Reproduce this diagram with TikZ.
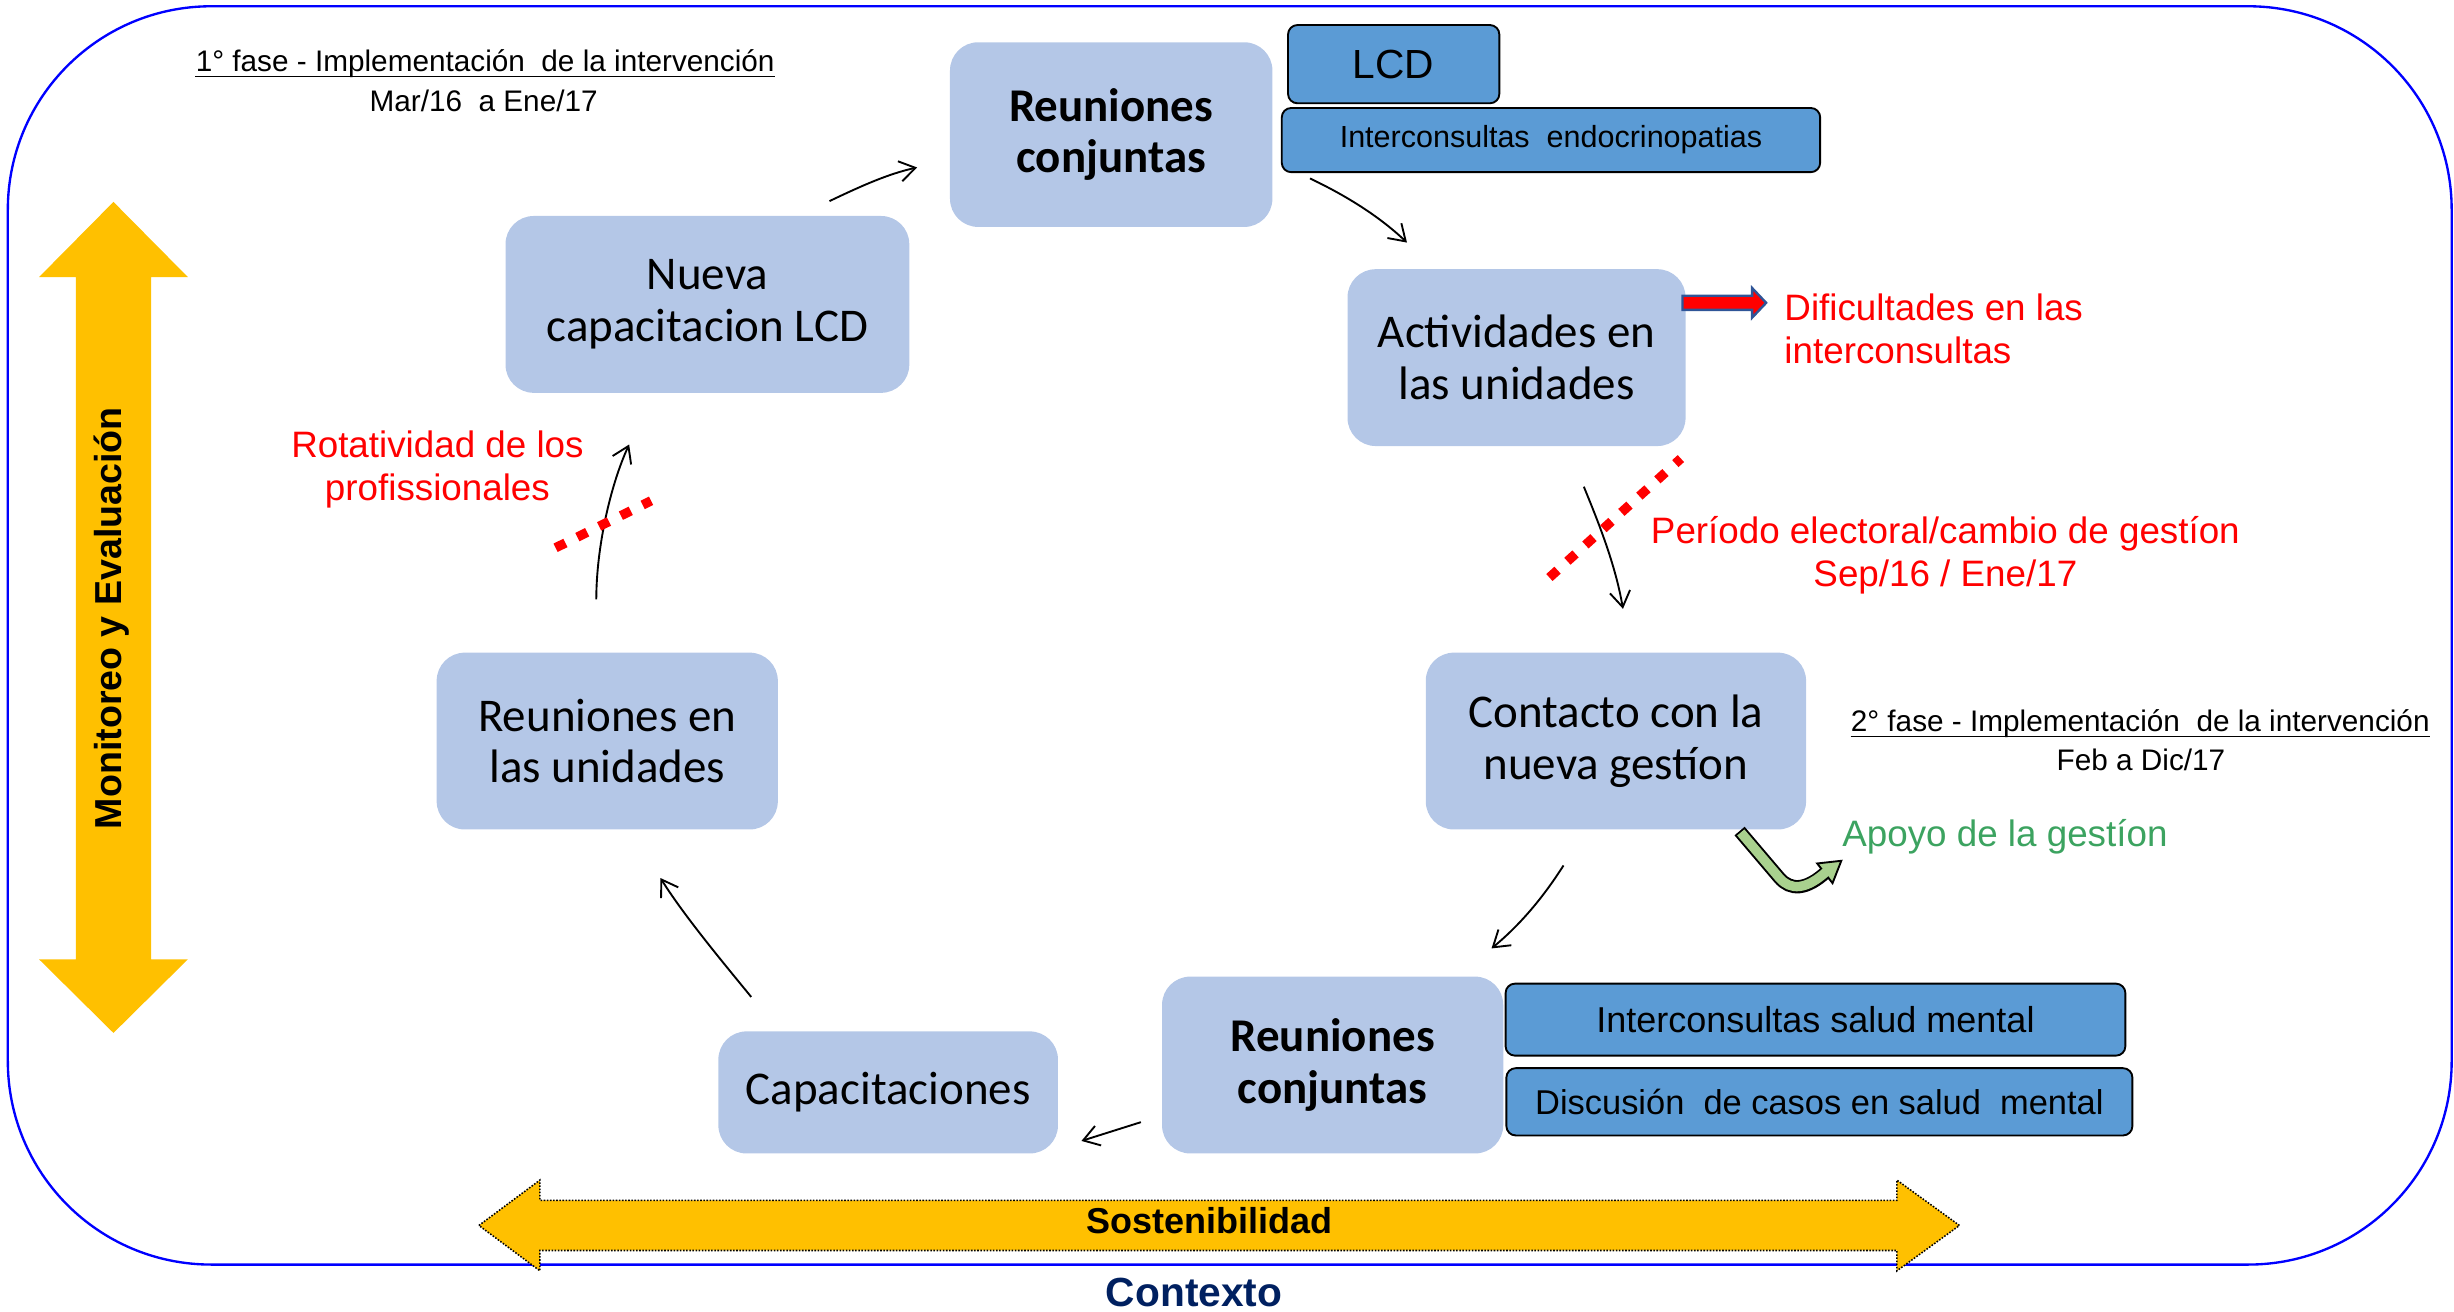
\documentclass[tikz,border=0pt]{standalone}
\usepackage{fontspec}
\setmainfont{Liberation Sans}
\newfontfamily\calib{Carlito}
\usetikzlibrary{arrows.meta}
\definecolor{lboxc}{HTML}{B4C7E7}
\definecolor{dboxc}{HTML}{5B9BD5}
\definecolor{ambar}{HTML}{FFC000}
\definecolor{navyc}{HTML}{002060}
\definecolor{apoyog}{RGB}{60,163,96}
\definecolor{lgreen}{HTML}{A9D18E}
\definecolor{arrowblue}{HTML}{2F5597}
\definecolor{frameblue}{RGB}{0,0,255}
\begin{document}
\begin{tikzpicture}[x=1pt,y=-1pt,
  lbox/.style={fill=lboxc, rounded corners=18pt, inner sep=0pt, align=center,
    font=\calib\fontsize{30}{33}\selectfont, text=black},
  dbox/.style={fill=dboxc, draw=black, line width=1.2pt, rounded corners=6pt,
    inner sep=0pt, align=center},
  lbl/.style={inner sep=0pt},
  redlbl/.style={inner sep=0pt, text=red, font=\fontsize{23.5}{28}\selectfont},
  faselbl/.style={inner sep=0pt, font=\fontsize{19}{24}\selectfont},
  conn/.style={line width=1.2pt, -{Straight Barb[length=10pt,width=13pt]}},
  reddots/.style={red, line width=6pt, dash pattern=on 7pt off 8.5pt},
]
\useasboundingbox (0,0) rectangle (1568,838);

% outer frame
\draw[frameblue, line width=1.5pt, rounded corners=130pt] (5,4) rectangle (1566.5,808);

% vertical double arrow
\fill[ambar] (72.5,129) -- (120,177) -- (96.5,177) -- (96.5,613) -- (120,613)
  -- (72.5,660) -- (25,613) -- (48.5,613) -- (48.5,177) -- (25,177) -- cycle;
\node[lbl, rotate=90, anchor=base, font=\bfseries\fontsize{24}{28}\selectfont]
  (mon) at (77.5,395) {Monitoreo y Evaluación};

% horizontal double arrow
\filldraw[fill=ambar, draw=black, line width=1pt, dash pattern=on 1pt off 1pt]
  (306,783) -- (345,754) -- (345,767) -- (1212,767) -- (1212,754) -- (1252,783)
  -- (1212,812) -- (1212,799) -- (345,799) -- (345,812) -- cycle;
\node[lbl, anchor=base, font=\bfseries\fontsize{23}{28}\selectfont] (sos) at (773,788) {Sostenibilidad};
\node[lbl, anchor=base, text=navyc, font=\bfseries\fontsize{26}{30}\selectfont] (ctx) at (763,835) {Contexto};

% light boxes
\node[lbox, minimum width=206pt, minimum height=118pt, font=\calib\bfseries\fontsize{30}{33}\selectfont]
  (rc1) at (710,86) {Reuniones\\conjuntas};
\node[lbox, minimum width=258pt, minimum height=113pt] (ncl) at (452,194.5) {Nueva\\capacitacion LCD};
\node[lbox, minimum width=216pt, minimum height=113pt] (act) at (969,228.5) {Actividades en\\las unidades};
\node[lbox, minimum width=243pt, minimum height=113pt] (cng) at (1032.5,473.5) {Contacto con la\\nueva gestíon};
\node[lbox, minimum width=218pt, minimum height=113pt] (reu) at (388,473.5) {Reuniones en\\las unidades};
\node[lbox, minimum width=217pt, minimum height=78pt] (cap) at (567.5,698) {Capacitaciones};
\node[lbox, minimum width=218pt, minimum height=113pt, font=\calib\bfseries\fontsize{30}{33}\selectfont]
  (rc2) at (851.5,680.5) {Reuniones\\conjuntas};

% dark boxes
\node[dbox, minimum width=135pt, minimum height=50pt, font=\fontsize{26}{30}\selectfont] (lcd) at (890.5,41) {LCD};
\node[dbox, minimum width=344pt, minimum height=41pt, font=\fontsize{19.5}{24}\selectfont] (endo) at (991,89.5) {Interconsultas\ \ endocrinopatias};
\node[dbox, minimum width=396pt, minimum height=46pt, font=\fontsize{23}{28}\selectfont] (salud) at (1160,651.5) {Interconsultas salud mental};
\node[dbox, minimum width=400pt, minimum height=43pt, font=\fontsize{22}{26}\selectfont] (disc) at (1162.5,704) {Discusión\ \ de casos en salud\ \ mental};

% phase labels
\node[faselbl, anchor=base] (fase1) at (310,46) {1° fase - Implementación\ \ de la intervención};
\draw[line width=1pt] ([yshift=-3pt]fase1.base west) -- ([yshift=-3pt]fase1.base east);
\node[faselbl, anchor=base] (fase1b) at (309,71) {Mar/16\ \ a Ene/17};
\node[faselbl, anchor=base] (fase2) at (1367.5,467.5) {2° fase - Implementación\ \ de la intervención};
\draw[line width=1pt] ([yshift=-3pt]fase2.base west) -- ([yshift=-3pt]fase2.base east);
\node[faselbl, anchor=base] (fase2b) at (1368,492) {Feb a Dic/17};

% red / green labels
\node[redlbl, anchor=base west] (dif1) at (1140,205) {Dificultades en las};
\node[redlbl, anchor=base west] (dif2) at (1140,232) {interconsultas};
\node[redlbl, anchor=base] (per1) at (1243,347) {Período electoral/cambio de gestíon};
\node[redlbl, anchor=base] (per2) at (1243,375) {Sep/16 / Ene/17};
\node[redlbl, anchor=base] (rot1) at (279.5,292) {Rotatividad de los};
\node[redlbl, anchor=base] (rot2) at (279.5,320) {profissionales};
\node[lbl, anchor=base west, text=apoyog, font=\fontsize{23.5}{28}\selectfont] (apo) at (1177,541) {Apoyo de la gestíon};

% connector end points
\coordinate (a1) at (530,128.5); \coordinate (a2) at (586,107);
\coordinate (b1) at (837,114);   \coordinate (b2) at (899,155);
\coordinate (c1) at (1012,311);  \coordinate (c2) at (1037,389);
\coordinate (d1) at (999,553);   \coordinate (d2) at (953,606);
\coordinate (e1) at (729,717);   \coordinate (e2) at (691,729);
\coordinate (f1) at (480,637);   \coordinate (f2) at (422,561);
\coordinate (g1) at (381,383);   \coordinate (g2) at (402,284);

\draw[conn] (a1) .. controls (552,118) and (568,111) .. (a2);
\draw[conn] (b1) .. controls (858,124) and (880,137) .. (b2);
\draw[conn] (c1) .. controls (1021,333) and (1032,360) .. (c2);
\draw[conn] (d1) .. controls (985,575) and (970,592) .. (d2);
\draw[conn] (e1) -- (e2);
\draw[conn] (f1) .. controls (462,615) and (437,585) .. (f2);
\draw[conn] (g1) .. controls (381,350) and (390,310) .. (g2);

% red dotted barriers
\draw[reddots] (990,369) -- (1074,293);
\draw[reddots] (355,350) -- (416,320);

% red block arrow
\filldraw[fill=red, draw=arrowblue, line width=1.5pt, line join=miter]
  (1075,189) -- (1119.5,189) -- (1119.5,184) -- (1128.5,193.5) -- (1119.5,203)
  -- (1119.5,198) -- (1075,198) -- cycle;

% green bent arrow
\draw[black, line width=8.5pt] (1111.5,531) -- (1137,561) .. controls (1144,569) and (1154,569) .. (1167,557);
\filldraw[fill=lgreen, draw=black, line width=1.2pt, line join=miter]
  (1161.1,551.7) -- (1176.5,550) -- (1170.9,564.3) -- cycle;
\draw[lgreen, line width=6pt, shorten <=1.2pt] (1111.5,531) -- (1137,561) .. controls (1144,569) and (1154,569) .. (1168,556);
\end{tikzpicture}
\end{document}
